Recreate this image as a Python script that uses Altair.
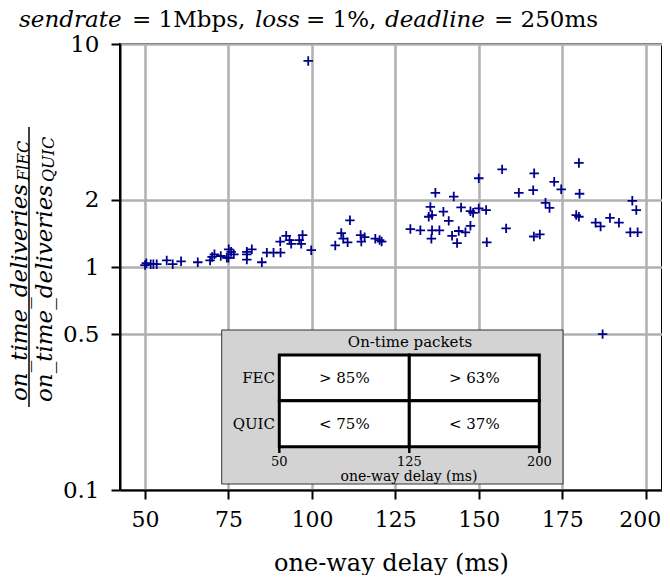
import altair as alt
import pandas as pd

# ---------------- data ----------------
delays = [50.0, 50.4, 51.7, 52.5, 53.5, 56.5, 58.3, 60.8, 65.8, 69.5,
          70.1, 70.8, 72.7, 74.5, 75.1, 75.8, 76.6, 75.0, 80.5, 80.5,
          80.5, 82.0, 85.0, 86.5, 88.5, 90.6, 90.5, 92.3, 93.3, 93.8,
          96.2, 97.2, 96.8, 99.8, 98.9, 107.0, 108.8, 109.4, 110.7, 111.4,
          114.6, 114.8, 115.8, 119.0, 120.3, 120.9, 129.5, 132.5, 135.5, 136.0,
          135.0, 136.0, 135.8, 138.2, 137.0, 142.5, 150.0, 157.0, 166.6, 162.0,
          166.3, 139.4, 144.7, 141.0, 147.5, 148.3, 150.0, 152.2, 147.5, 146.0,
          144.0, 142.0, 143.5, 152.4, 158.2, 166.5, 168.3, 170.0, 171.2, 180.0,
          172.6, 174.7, 180.2, 179.2, 180.0, 185.0, 186.5, 189.3, 192.0, 196.0,
          197.2, 195.4, 197.6, 187.1]
ratios = [1.02, 1.04, 1.03, 1.03, 1.03, 1.07, 1.03, 1.06, 1.05, 1.07,
          1.11, 1.14, 1.12, 1.10, 1.20, 1.17, 1.14, 1.10, 1.17, 1.14,
          1.08, 1.20, 1.05, 1.16, 1.16, 1.16, 1.30, 1.38, 1.32, 1.27,
          1.32, 1.39, 1.27, 1.19, 8.4, 1.25, 1.42, 1.34, 1.29, 1.62,
          1.39, 1.30, 1.36, 1.34, 1.32, 1.30, 1.48, 1.46, 1.86, 1.71,
          1.68, 1.46, 1.34, 1.46, 2.15, 2.07, 2.50, 2.74, 2.63, 2.15,
          2.21, 1.77, 1.85, 1.61, 1.78, 1.75, 1.83, 1.80, 1.53, 1.43,
          1.45, 1.38, 1.28, 1.29, 1.49, 1.37, 1.40, 1.94, 1.84, 2.93,
          2.41, 2.23, 2.13, 1.71, 1.68, 1.58, 1.52, 1.66, 1.58, 1.98,
          1.80, 1.43, 1.43, 0.50]

x_ticks = [50, 75, 100, 125, 150, 175, 200]
y_ticks = [0.1, 0.5, 1, 2, 10]

cell_lo = [50, 125, 50, 125]
cell_hi = [125, 200, 125, 200]
cell_row = ["FEC", "FEC", "QUIC", "QUIC"]
cell_text = ["> 85%", "> 63%", "< 75%", "< 37%"]
rows = ["FEC", "QUIC"]
inset_ticks = [50, 125, 200]

# ---------------- chart ----------------
FONT = "DejaVu Serif"
W, H = 542, 446
one = pd.DataFrame({"a": [0]})

pts = pd.DataFrame({"delay": delays, "ratio": ratios})
plus = "M-1,0L1,0M0,-1L0,1"

main = alt.Chart(pts).mark_point(
    shape=plus, filled=False, color="#00008b", strokeWidth=1.8, size=90, opacity=1
).encode(
    x=alt.X("delay:Q",
            scale=alt.Scale(domain=[42.5, 204.9], nice=False, zero=False),
            axis=alt.Axis(values=x_ticks, title="one-way delay (ms)",
                          titleY=80, titleBaseline="alphabetic",
                          labelPadding=10, labelFontSize=22,
                          labelOffset={"condition": {"test": "datum.value == 200",
                                                     "value": -6},
                                       "value": 0})),
    y=alt.Y("ratio:Q",
            scale=alt.Scale(type="log", domain=[0.1, 10], nice=False),
            axis=alt.Axis(values=y_ticks, format="~g", title=None,
                          labelPadding=12)),
)


def label(text, x, y, size, style="normal", align="center",
          baseline="alphabetic", angle=0):
    return alt.Chart(one).mark_text(
        text=text, font=FONT, fontSize=size, fontStyle=style, align=align,
        baseline=baseline, angle=angle, color="black"
    ).encode(x=alt.value(x), y=alt.value(y))


# title pieces (mixed italic / upright)
ty = -17
title_layers = [
    label("sendrate", -101, ty, 23, "italic", "left"),
    label("= 1Mbps,", 12, ty, 23, "normal", "left"),
    label("loss", 135, ty, 23, "italic", "left"),
    label("= 1%,", 186, ty, 23, "normal", "left"),
    label("deadline", 265, ty, 23, "italic", "left"),
    label("= 250ms", 374, ty, 23, "normal", "left"),
]

# y-axis title as a fraction
ylab_layers = [
    label("on_time_deliveries", -93, 357, 23, "italic", "left", angle=270),
    label("FlEC", -91, 137, 16, "italic", "left", angle=270),
    label("on_time_deliveries", -68.5, 358, 23, "italic", "left", angle=270),
    label("QUIC", -66.5, 138, 16, "italic", "left", angle=270),
    alt.Chart(one).mark_rule(color="black", strokeWidth=1.5).encode(
        x=alt.value(-91), y=alt.value(83), y2=alt.value(363)),
]

# inset table
ix = alt.Scale(domain=[50, 200], range=[159.3, 419.3], nice=False, zero=False)
iy = alt.Scale(type="band", domain=rows, range=[311, 402.7],
               paddingInner=0, paddingOuter=0)

cells = pd.DataFrame({"lo": cell_lo, "hi": cell_hi, "row": cell_row,
                      "txt": cell_text})
cells["mid"] = (cells["lo"] + cells["hi"]) / 2
rowdf = pd.DataFrame({"row": rows})
tickdf = pd.DataFrame({"t": inset_ticks, "lab": [str(t) for t in inset_ticks]})

box = alt.Chart(one).mark_rect(fill="#d3d3d3", stroke="#333333",
                               strokeWidth=1).encode(
    x=alt.value(101.7), x2=alt.value(443), y=alt.value(286), y2=alt.value(440))

cell_rect = alt.Chart(cells).mark_rect(fill="white", stroke="black",
                                       strokeWidth=3).encode(
    x=alt.X("lo:Q", scale=ix, axis=None), x2="hi:Q",
    y=alt.Y("row:N", scale=iy, axis=None))

cell_txt = alt.Chart(cells).mark_text(font=FONT, fontSize=15,
                                      baseline="middle", color="black").encode(
    x=alt.X("mid:Q", scale=ix, axis=None),
    y=alt.Y("row:N", scale=iy, axis=None, bandPosition=0.5),
    text="txt:N")

row_txt = alt.Chart(rowdf).mark_text(font=FONT, fontSize=15, align="right",
                                     baseline="middle", color="black").encode(
    x=alt.value(155),
    y=alt.Y("row:N", scale=iy, axis=None, bandPosition=0.5),
    text="row:N")

itick = alt.Chart(tickdf).mark_rule(color="black", strokeWidth=2.5).encode(
    x=alt.X("t:Q", scale=ix, axis=None), y=alt.value(402.7), y2=alt.value(409))

itick_lab = alt.Chart(tickdf).mark_text(font=FONT, fontSize=13,
                                        baseline="middle", color="black").encode(
    x=alt.X("t:Q", scale=ix, axis=None), y=alt.value(418), text="lab:N")

inset = alt.layer(
    box, cell_rect, cell_txt, row_txt, itick, itick_lab,
    label("On-time packets", 290, 298, 15, baseline="middle"),
    label("one-way delay (ms)", 289, 433, 14, baseline="middle"),
    *title_layers, *ylab_layers,
)

chart = alt.layer(main, inset).resolve_scale(
    x="independent", y="independent"
).properties(
    width=W, height=H,
    autosize=alt.AutoSizeParams(type="none"),
    padding={"left": 112, "top": 36, "right": 0, "bottom": 85},
).configure_view(
    stroke="black", strokeWidth=2
).configure_axis(
    labelFont=FONT, labelFontSize=23, labelColor="black",
    titleFont=FONT, titleFontSize=24, titleColor="black", titleFontWeight="normal",
    domainColor="black", domainWidth=2,
    tickColor="black", tickWidth=2, tickSize=9,
    gridColor="#b0b0b0", gridWidth=2.5, grid=True,
)

chart.save("out.html", embed_options={"renderer": "svg", "actions": False})
